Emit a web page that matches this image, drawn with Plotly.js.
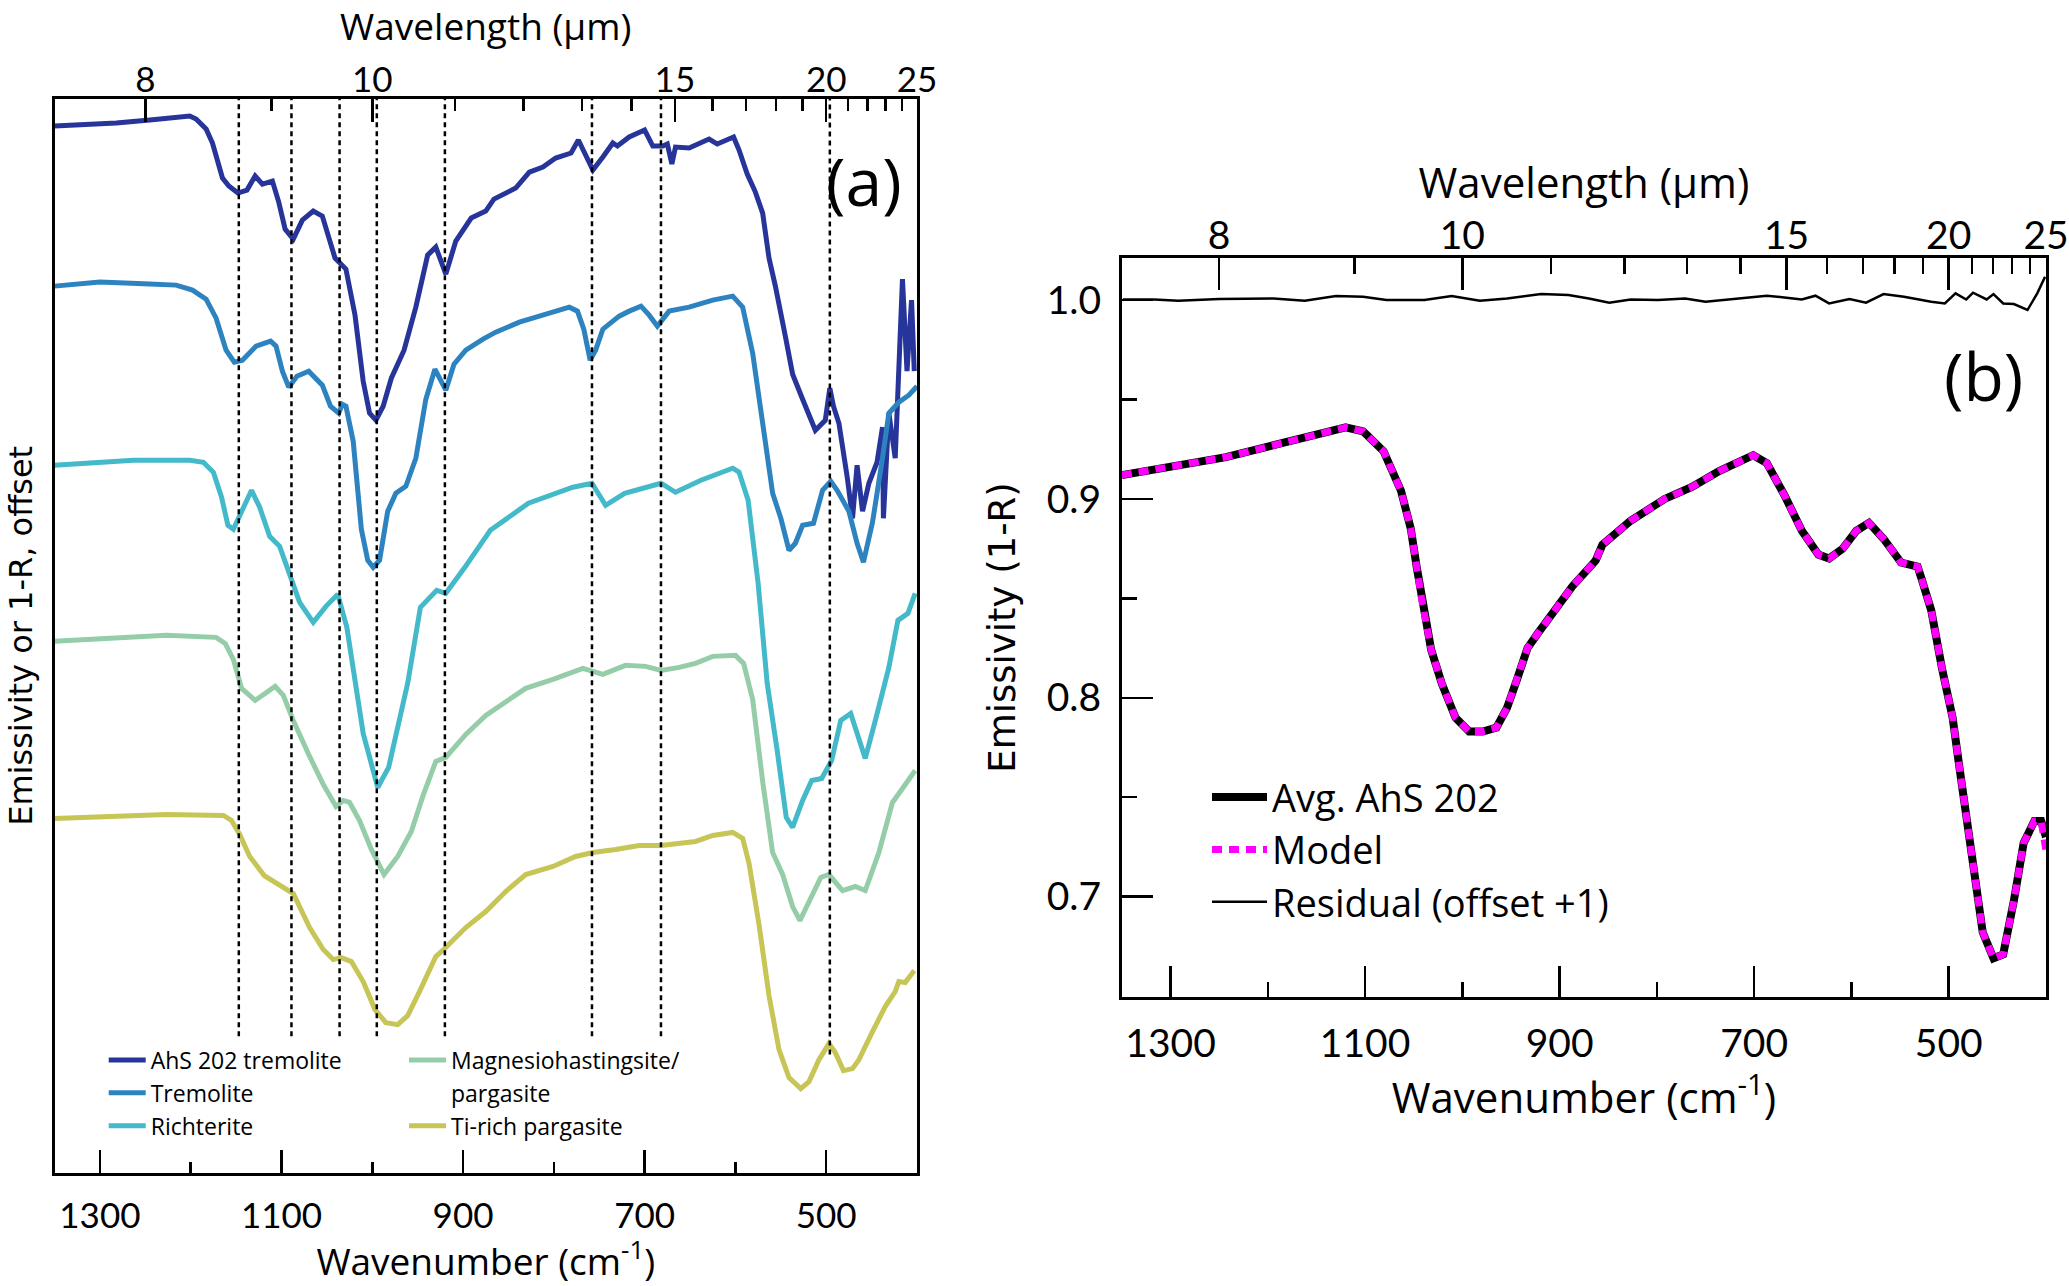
<!DOCTYPE html>
<html><head><meta charset="utf-8">
<script src="https://cdn.plot.ly/plotly-3.0.1.min.js"></script>
<style>html,body{margin:0;padding:0;background:#fff;}#chart{width:2069px;height:1286px;}</style>
</head><body><div id="chart"></div>
<script>
// ---------- Panel (a): spectra (wavenumber, emissivity with offset, arbitrary units) ----------
const ahsWn = [1350,1318,1282,1245,1201,1194,1183,1176,1165,1158,1148,1138,1129,1121,1110,1103,1096,1087,1077,1065,1055,1041,1036,1029,1019,1010,1003,996,988,979,965,952,939,930,919,908,891,875,866,842,827,812,798,781,773,757,746,735,730,717,700,691,680,675,670,666,651,629,620,602,596,587,578,570,563,556,545,537,526,517,512,501,496,492,486,477,471,466,460,453,444,438,437,431,424,416,411,406,403];
const ahsVal = [10.46,10.47,10.49,10.52,10.56,10.53,10.43,10.29,9.94,9.86,9.79,9.82,9.96,9.88,9.91,9.70,9.43,9.33,9.52,9.61,9.56,9.14,9.10,9.03,8.57,7.91,7.59,7.52,7.66,7.94,8.22,8.65,9.17,9.25,8.98,9.31,9.54,9.61,9.73,9.84,10.00,10.05,10.14,10.19,10.32,10.02,10.15,10.29,10.26,10.35,10.42,10.26,10.26,10.28,10.08,10.25,10.24,10.33,10.28,10.35,10.22,9.98,9.80,9.59,9.14,8.86,8.36,7.98,7.73,7.54,7.42,7.52,7.84,7.66,7.49,6.96,6.54,7.07,6.61,6.89,7.10,7.45,6.54,7.59,7.14,8.93,8.01,8.72,8.01];

const tremWn = [1350,1300,1245,1216,1198,1183,1172,1161,1152,1143,1128,1112,1106,1099,1092,1083,1070,1055,1046,1037,1033,1029,1021,1012,1005,999,992,983,974,963,952,941,931,919,910,897,878,864,838,816,783,774,767,760,754,746,728,717,704,695,686,673,651,625,603,592,581,570,559,550,541,534,526,514,504,495,488,475,466,459,449,438,431,420,409,400];
const tremVal = [8.86,8.90,8.88,8.87,8.82,8.73,8.54,8.22,8.10,8.12,8.26,8.31,8.26,8.01,7.85,7.96,8.01,7.87,7.66,7.59,7.68,7.66,7.31,6.43,6.12,6.05,6.12,6.61,6.79,6.86,7.14,7.73,8.03,7.82,8.08,8.22,8.33,8.40,8.50,8.56,8.65,8.61,8.43,8.12,8.22,8.43,8.56,8.61,8.66,8.57,8.46,8.61,8.65,8.72,8.76,8.65,8.19,7.49,6.79,6.54,6.22,6.29,6.47,6.49,6.82,6.91,6.82,6.61,6.29,6.10,6.50,7.14,7.59,7.70,7.77,7.86];

const richWn = [1350,1318,1263,1227,1201,1186,1175,1166,1159,1153,1146,1133,1124,1113,1102,1091,1080,1065,1051,1038,1028,1010,994,982,961,947,929,919,898,870,828,779,758,743,722,682,666,638,603,596,586,575,565,554,544,537,526,516,505,494,484,473,466,457,445,431,421,410,402];
const richVal = [7.07,7.09,7.12,7.12,7.12,7.10,7.00,6.75,6.47,6.43,6.57,6.82,6.65,6.36,6.26,5.98,5.70,5.50,5.66,5.78,5.45,4.39,3.85,4.05,4.89,5.65,5.82,5.79,6.05,6.42,6.69,6.85,6.89,6.67,6.79,6.89,6.80,6.92,7.04,7.00,6.72,5.89,4.89,4.22,3.55,3.45,3.72,3.92,3.94,4.12,4.52,4.59,4.39,4.14,4.55,5.05,5.52,5.59,5.79];

const mghWn = [1350,1282,1227,1172,1162,1153,1144,1129,1107,1098,1087,1069,1054,1040,1032,1025,1014,1001,987,972,957,944,930,919,897,875,853,831,801,768,746,721,699,682,662,644,625,600,591,581,570,559,548,537,529,519,506,497,482,468,457,442,427,416,402];
const mghVal = [5.31,5.34,5.37,5.35,5.29,5.13,4.84,4.72,4.86,4.77,4.52,4.16,3.88,3.66,3.72,3.70,3.52,3.23,2.98,3.16,3.41,3.77,4.11,4.15,4.38,4.57,4.70,4.84,4.93,5.04,4.98,5.07,5.06,5.02,5.05,5.09,5.16,5.17,5.09,4.73,3.91,3.20,2.98,2.66,2.52,2.70,2.95,2.98,2.82,2.86,2.82,3.20,3.70,3.84,4.02];

const tiWn = [1350,1282,1227,1164,1155,1146,1135,1119,1098,1087,1069,1054,1043,1034,1023,1010,997,985,972,961,948,930,919,897,875,853,831,801,776,757,732,706,682,644,625,603,592,585,574,563,552,541,528,519,508,497,490,481,471,464,449,435,424,420,413,403];
const tiVal = [3.54,3.56,3.58,3.57,3.52,3.38,3.16,2.97,2.86,2.79,2.45,2.23,2.13,2.15,2.11,1.91,1.63,1.50,1.48,1.57,1.81,2.16,2.25,2.45,2.61,2.81,2.98,3.06,3.16,3.20,3.23,3.27,3.27,3.31,3.37,3.40,3.34,3.09,2.48,1.77,1.23,0.95,0.84,0.91,1.13,1.29,1.20,1.02,1.04,1.13,1.41,1.66,1.81,1.91,1.90,2.02];

const seriesNames = ['AhS 202 tremolite','Tremolite','Richterite','Magnesiohastingsite/','Ti-rich pargasite'];
const bandCenters = [1147,1089,1036,995,920,758,682,496];

// ---------- Panel (b): average spectrum, model, residual ----------
const avgWn = [1350,1299,1243,1194,1159,1120,1102,1081,1063,1053,1047,1042,1032,1021,1007,993,979,965,954,944,933,923,905,887,863,856,827,792,764,736,701,687,669,651,634,623,609,595,582,567,549,532,528,518,507,496,489,482,475,465,454,444,433,423,412,405,400];
const avgE = [0.912,0.916,0.921,0.927,0.931,0.936,0.934,0.924,0.904,0.885,0.866,0.850,0.824,0.807,0.790,0.783,0.783,0.785,0.795,0.809,0.825,0.832,0.844,0.856,0.869,0.877,0.889,0.900,0.906,0.914,0.922,0.918,0.902,0.884,0.872,0.870,0.875,0.884,0.888,0.880,0.868,0.866,0.860,0.844,0.815,0.790,0.765,0.740,0.715,0.682,0.669,0.671,0.698,0.727,0.738,0.738,0.730];
const modelE = [0.912,0.916,0.921,0.927,0.931,0.936,0.934,0.924,0.904,0.885,0.866,0.850,0.824,0.807,0.790,0.783,0.783,0.785,0.795,0.809,0.825,0.832,0.844,0.856,0.869,0.877,0.889,0.900,0.906,0.914,0.922,0.918,0.902,0.884,0.872,0.870,0.875,0.884,0.888,0.880,0.868,0.866,0.860,0.844,0.815,0.790,0.765,0.740,0.715,0.682,0.669,0.671,0.698,0.727,0.738,0.738,0.723];
const resWn = [1349,1317,1292,1250,1194,1162,1130,1102,1078,1039,1011,982,954,919,891,870,849,827,799,771,750,715,687,669,651,637,623,602,585,567,546,518,504,493,482,475,461,454,444,433,419,409,401];
const resE = [1.0003,1.0003,0.9997,1.0005,1.0008,0.9997,1.0020,1.0017,1.0000,1.0000,1.0020,0.9997,1.0008,1.0030,1.0025,1.0008,0.9987,1.0003,1.0000,1.0008,0.9992,1.0008,1.0022,1.0013,1.0003,1.0022,0.9983,1.0005,0.9987,1.0030,1.0017,0.9992,0.9983,1.0034,1.0003,1.0037,1.0003,1.0030,0.9983,0.9980,0.9950,1.0034,1.0117];

// ---------- Axis tick labels ----------
const wlMajor = [8,10,15,20,25];
const wlMinor = [9,11,12,13,14,16,17,18,19,21,22,23,24];
const yTicksB = [0.7,0.8,0.9,1.0];
const yMinorB = [0.75,0.85,0.95];

// ---------- Build ----------
const W = 2069, H = 1286;
const px = x => x / W, py = y => 1 - y / H;
const FONT = '"Open Sans", Lato, sans-serif';
const TFONT = 'Lato, "Open Sans", sans-serif';
const YFONT = '"DejaVu Sans", Verdana, sans-serif';
const BLACK = '#000';
const colors = ['#27349a','#2d83c0','#44b9c9','#95cda9','#c8c557'];

const domA = {x:[px(54.5), px(917)], y:[py(1172.7), py(99)]};
const domB = {x:[px(1121.9), px(2046)], y:[py(996.7), py(258.3)]};

const aData = [[ahsWn,ahsVal],[tremWn,tremVal],[richWn,richVal],[mghWn,mghVal],[tiWn,tiVal]];
const traces = [];
aData.forEach((d,i) => {
  traces.push({type:'scatter', mode:'lines', x:d[0], y:d[1], name:seriesNames[i],
    xaxis:'x', yaxis:'y', line:{color:colors[i], width:5}, hoverinfo:'skip',
    legend: i < 3 ? 'legend' : 'legend2'});
  if (i === 3) {
    traces.push({type:'scatter', mode:'lines', x:[null], y:[null], name:'pargasite',
      xaxis:'x', yaxis:'y', line:{color:'rgba(0,0,0,0)', width:5}, hoverinfo:'skip', legend:'legend2'});
  }
});
traces.push({type:'scatter', mode:'lines', x:avgWn, y:avgE, name:'Avg. AhS 202', xaxis:'x3', yaxis:'y2',
  line:{color:BLACK, width:8}, hoverinfo:'skip', legend:'legend3'});
traces.push({type:'scatter', mode:'lines', x:avgWn, y:modelE, name:'Model', xaxis:'x3', yaxis:'y2',
  line:{color:'#ff00ff', width:7, dash:'10px,7px'}, hoverinfo:'skip', legend:'legend3'});
traces.push({type:'scatter', mode:'lines', x:resWn, y:resE, name:'Residual (offset +1)', xaxis:'x3', yaxis:'y2',
  line:{color:BLACK, width:2.5}, hoverinfo:'skip', legend:'legend3'});
// empty helper traces so that the wavelength (top) axes are created and drawn
traces.push({type:'scatter', mode:'lines', x:[null], y:[null], xaxis:'x2', yaxis:'y', showlegend:false, hoverinfo:'skip'});
traces.push({type:'scatter', mode:'lines', x:[null], y:[null], xaxis:'x4', yaxis:'y2', showlegend:false, hoverinfo:'skip'});

const tickCommon = {ticks:'inside', tickwidth:2.5, tickcolor:BLACK, showline:true, linecolor:BLACK, linewidth:3,
  showgrid:false, zeroline:false};

function bottomAxis(dom, anchor, fs, tfs, majLen, minLen, standoff, lblOff) {
  return Object.assign({}, tickCommon, {domain:dom, anchor:anchor, range:[1350,400], autorange:false, tickmode:'linear', tick0:1300, dtick:200,
    ticklen:majLen, tickfont:{family:TFONT, size:fs, color:BLACK}, ticklabelstandoff:lblOff,
    minor:{ticks:'inside', ticklen:minLen, tickwidth:2.5, tickcolor:BLACK, tick0:1300, dtick:100, showgrid:false},
    title:{text:'Wavenumber (cm<sup>-1</sup>)', font:{family:FONT, size:tfs, color:BLACK}, standoff:standoff}});
}
function topAxis(dom, anchor, over, fs, tfs, majLen, minLen, standoff, lblOff) {
  return Object.assign({}, tickCommon, {domain:dom, anchor:anchor, overlaying:over, side:'top', range:[1350,400], autorange:false,
    tickmode:'array', tickvals:wlMajor.map(l => 1e4/l), ticktext:wlMajor.map(String),
    ticklen:majLen, tickfont:{family:TFONT, size:fs, color:BLACK}, ticklabelstandoff:lblOff,
    minor:{tickmode:'array', tickvals:wlMinor.map(l => 1e4/l), ticks:'inside', ticklen:minLen, tickwidth:2.5, tickcolor:BLACK, showgrid:false},
    title:{text:'Wavelength (µm)', font:{family:FONT, size:tfs, color:BLACK}, standoff:standoff}});
}

const shapes = bandCenters.map(w => ({type:'line', xref:'x', yref:'y domain', x0:w, x1:w,
  y0: w < 550 ? 0.11 : 0.127, y1:1, line:{color:BLACK, width:2.5, dash:'5px,4px'}}));

const legendBase = {xanchor:'left', yanchor:'top', bgcolor:'rgba(0,0,0,0)', borderwidth:0, tracegroupgap:0, traceorder:'normal'};

const layout = {
  width:W, height:H, margin:{l:0,r:0,t:0,b:0}, paper_bgcolor:'#fff', plot_bgcolor:'rgba(0,0,0,0)',
  showlegend:true,
  xaxis: bottomAxis(domA.x, 'y', 35, 37, 23, 11, 18, 10),
  xaxis2: topAxis(domA.x, 'y', 'x', 35, 37, 23, 12, 32, -10),
  yaxis: Object.assign({}, tickCommon, {domain:domA.y, anchor:'x', range:[0,10.73], autorange:false, showticklabels:false, ticks:'', mirror:true,
    title:{text:'Emissivity or 1-R, offset', font:{family:YFONT, size:32, color:BLACK}, standoff:10}}),
  xaxis3: bottomAxis(domB.x, 'y2', 39, 42, 31, 15, 18, 10),
  xaxis4: topAxis(domB.x, 'y2', 'x3', 39, 42, 32, 16, 0, -9),
  yaxis2: Object.assign({}, tickCommon, {domain:domB.y, anchor:'x3', range:[0.6497,1.021], autorange:false, mirror:true,
    tickmode:'array', tickvals:yTicksB, ticktext:yTicksB.map(v => v.toFixed(1)), ticklen:31,
    tickfont:{family:TFONT, size:39, color:BLACK}, ticklabelstandoff:10,
    minor:{tickmode:'array', tickvals:yMinorB, ticks:'inside', ticklen:15, tickwidth:2.5, tickcolor:BLACK, showgrid:false},
    title:{text:'Emissivity (1-R)', font:{family:YFONT, size:37, color:BLACK}, standoff:20}}),
  legend: Object.assign({}, legendBase, {x:px(103.7), y:py(1038.5), itemwidth:37, font:{family:FONT, size:23, color:BLACK}}),
  legend2: Object.assign({}, legendBase, {x:px(404), y:py(1038.5), itemwidth:37, font:{family:FONT, size:23, color:BLACK}}),
  legend3: Object.assign({}, legendBase, {x:px(1207), y:py(765.8), itemwidth:55, font:{family:FONT, size:38, color:BLACK}}),
  shapes: shapes,
  annotations: [
    {text:'(a)', xref:'paper', yref:'paper', x:px(864), y:py(180), showarrow:false, xanchor:'center', yanchor:'middle',
      font:{family:FONT, size:66, color:BLACK}},
    {text:'(b)', xref:'paper', yref:'paper', x:px(1983), y:py(375), showarrow:false, xanchor:'center', yanchor:'middle',
      font:{family:FONT, size:66, color:BLACK}}
  ]
};

Plotly.newPlot('chart', traces, layout, {staticPlot:true, displayModeBar:false});
</script></body></html>
